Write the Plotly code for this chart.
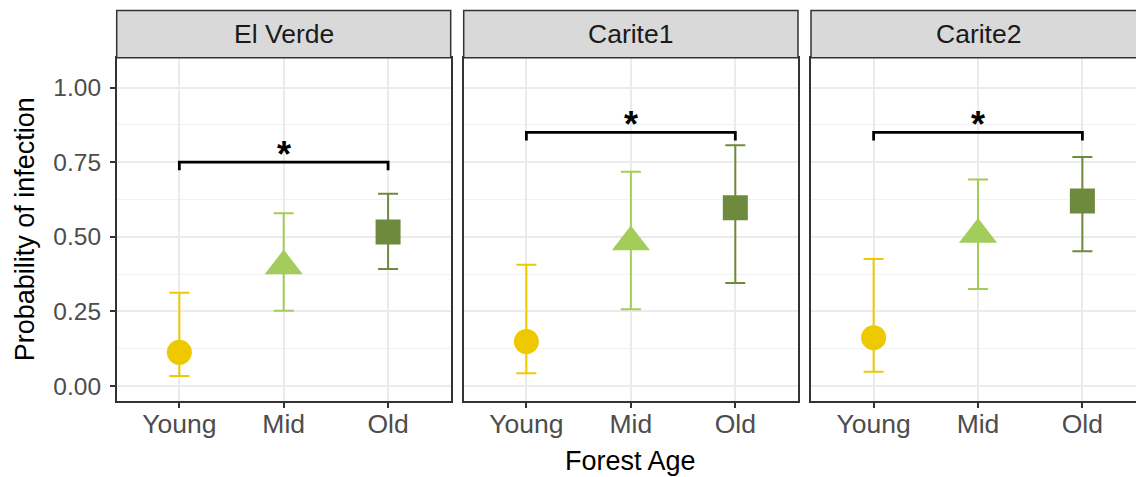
import plotly.graph_objects as go

# Sites (facets) and forest age classes
sites = ["El Verde", "Carite1", "Carite2"]
ages = ["Young", "Mid", "Old"]

# Estimated probability of infection with confidence limits, per site
el_verde_mean = [0.113, 0.402, 0.516]
el_verde_lower = [0.034, 0.252, 0.392]
el_verde_upper = [0.313, 0.579, 0.644]

carite1_mean = [0.149, 0.483, 0.597]
carite1_lower = [0.043, 0.257, 0.345]
carite1_upper = [0.406, 0.718, 0.807]

carite2_mean = [0.162, 0.508, 0.620]
carite2_lower = [0.048, 0.325, 0.452]
carite2_upper = [0.426, 0.692, 0.767]

# Significance bracket (Young vs Old) per site
bracket_heights = [0.75, 0.85, 0.85]
bracket_tip = 0.027
sig_labels = ["*", "*", "*"]

# Y axis ticks
y_ticks = [0.0, 0.25, 0.50, 0.75, 1.00]
y_tick_labels = ["0.00", "0.25", "0.50", "0.75", "1.00"]

age_colors = ["#EEC900", "#A2CD5A", "#6E8B3D"]
age_symbols = ["circle", "triangle-up", "square"]
age_sizes = [25, 33, 25]

W, H = 1136, 477
FONT = "Liberation Sans, Arial, Helvetica, sans-serif"

# Panel geometry in pixels (left, right), shared top/bottom
panel_px = [(116.7, 450.7), (463.7, 798.0), (811.0, 1145.0)]
top_px, bottom_px = 57.7, 401.0
strip_top_px = 10.5

means = [el_verde_mean, carite1_mean, carite2_mean]
lowers = [el_verde_lower, carite1_lower, carite2_lower]
uppers = [el_verde_upper, carite1_upper, carite2_upper]

fig = go.Figure()
shapes = []
annotations = []

y_dom = [1 - bottom_px / H, 1 - top_px / H]

for p, site in enumerate(sites):
    sfx = "" if p == 0 else str(p + 1)
    xref, yref = "x" + sfx, "y" + sfx
    for i, age in enumerate(ages):
        m = means[p][i]
        fig.add_trace(go.Scatter(
            x=[age], y=[m], xaxis=xref, yaxis=yref, mode="markers",
            marker=dict(symbol=age_symbols[i], size=age_sizes[i],
                        color=age_colors[i], line=dict(width=0)),
            error_y=dict(type="data", symmetric=False,
                         array=[uppers[p][i] - m],
                         arrayminus=[m - lowers[p][i]],
                         color=age_colors[i], thickness=2, width=10),
            showlegend=False, hoverinfo="skip"))
    # significance bracket between Young and Old
    b = bracket_heights[p]
    fig.add_trace(go.Scatter(
        x=[ages[0], ages[0], ages[-1], ages[-1]],
        y=[b - bracket_tip, b, b, b - bracket_tip],
        xaxis=xref, yaxis=yref, mode="lines",
        line=dict(color="black", width=2.8),
        showlegend=False, hoverinfo="skip"))
    annotations.append(dict(
        x=ages[1], y=b, xref=xref, yref=yref,
        text="<b>" + sig_labels[p] + "</b>",
        showarrow=False, yanchor="bottom", yshift=-15,
        font=dict(family=FONT, size=36, color="black")))

    l_px, r_px = panel_px[p]
    x0 = l_px / W
    x1 = min(r_px / W, 1.0)
    # category axis: positions 0..2, expanded by 0.6 on each side
    unit = (r_px - l_px) / 3.2
    x_max = -0.6 + (x1 * W - l_px) / unit
    last = p == len(sites) - 1
    fig.update_layout(**{
        "xaxis" + sfx: dict(
            domain=[x0, x1], anchor=yref, type="category",
            categoryorder="array", categoryarray=ages,
            range=[-0.6, x_max], showgrid=True, gridcolor="#EBEBEB",
            gridwidth=1.5, zeroline=False, showline=True, mirror=True,
            linecolor="#333333", linewidth=1.5, ticks="outside",
            ticklen=5, tickwidth=1.5, tickcolor="#333333",
            tickfont=dict(family=FONT, size=26.5, color="#4D4D4D"),
            ticklabelstandoff=-7),
        "yaxis" + sfx: dict(
            domain=y_dom, anchor=xref, range=[-0.05, 1.10],
            tickvals=y_ticks, ticktext=y_tick_labels,
            showticklabels=(p == 0), ticks="outside" if p == 0 else "",
            ticklen=5, tickwidth=1.5, tickcolor="#333333",
            tickfont=dict(family=FONT, size=24.5, color="#4D4D4D"),
            ticklabelstandoff=4,
            showgrid=True, gridcolor="#EBEBEB", gridwidth=1.5,
            zeroline=False, showline=True, mirror=not last,
            linecolor="#333333", linewidth=1.5,
            minor=dict(tickvals=[0.125, 0.375, 0.625, 0.875, 1.125],
                       showgrid=True, gridcolor="#F2F2F2", gridwidth=1)),
    })

    # facet strip
    sx1 = r_px / W
    shapes.append(dict(type="rect", xref="paper", yref="paper",
                       x0=x0, x1=sx1, y0=1 - top_px / H, y1=1 - strip_top_px / H,
                       fillcolor="#D9D9D9", line=dict(color="#333333", width=1.5),
                       layer="above"))
    annotations.append(dict(
        x=(l_px + r_px) / 2 / W, y=1 - (strip_top_px + top_px) / 2 / H,
        xref="paper", yref="paper", text=site, showarrow=False,
        xanchor="center", yanchor="middle",
        font=dict(family=FONT, size=26.5, color="#1A1A1A")))

# axis titles
annotations.append(dict(
    x=25 / W, y=1 - (top_px + bottom_px) / 2 / H, xref="paper", yref="paper",
    text="Probability of infection", textangle=-90, showarrow=False,
    xanchor="center", yanchor="middle",
    font=dict(family=FONT, size=27, color="black")))
annotations.append(dict(
    x=(panel_px[0][0] + panel_px[-1][1]) / 2 / W, y=1 - 461 / H,
    xref="paper", yref="paper", text="Forest Age", showarrow=False,
    xanchor="center", yanchor="middle",
    font=dict(family=FONT, size=27, color="black")))

fig.update_layout(
    width=W, height=H, margin=dict(l=0, r=0, t=0, b=0),
    paper_bgcolor="white", plot_bgcolor="white",
    shapes=shapes, annotations=annotations, showlegend=False)

fig.write_html("out.html")
